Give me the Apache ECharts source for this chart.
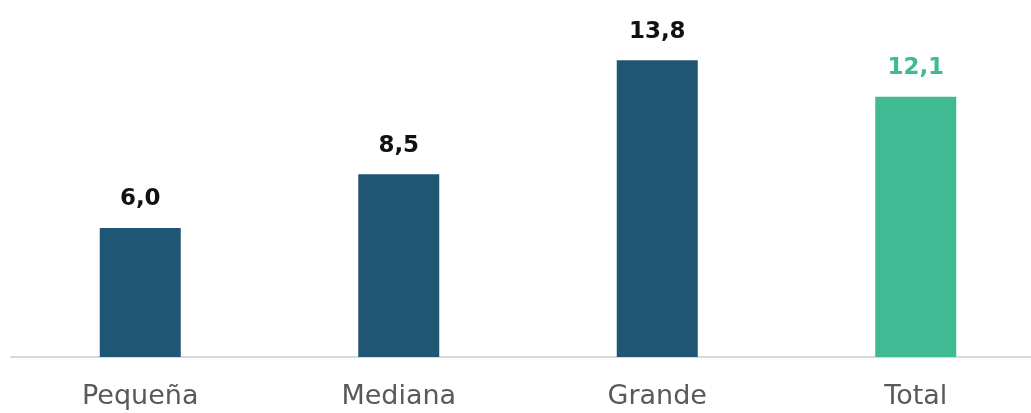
<!DOCTYPE html>
<html>
<head>
<meta charset="utf-8">
<script src="https://cdn.jsdelivr.net/npm/echarts@6/dist/echarts.min.js"></script>
<style>
html,body{margin:0;padding:0;background:#fff;overflow:hidden;}
#chart{width:1045px;height:413px;}
</style>
</head>
<body>
<div id="chart"></div>
<script>
const categories = ['Pequeña', 'Mediana', 'Grande', 'Total'];
const values = [6.0, 8.5, 13.8, 12.1];
const barColors = ['#1F5673', '#1F5673', '#1F5673', '#3FBA93'];
const labelColors = ['#111111', '#111111', '#111111', '#3FBA93'];

const chart = echarts.init(document.getElementById('chart'));
chart.setOption({
  animation: false,
  grid: { left: 11, right: 0, top: 0, bottom: 56 },
  xAxis: {
    type: 'category',
    data: categories,
    axisLine: { lineStyle: { color: '#D9D9D9', width: 2 } },
    axisTick: { show: false },
    axisLabel: { color: '#595959', fontSize: 27, fontFamily: 'DejaVu Sans', margin: 26 }
  },
  yAxis: {
    type: 'value', min: 0, max: 16.6,
    show: false
  },
  series: [{
    type: 'bar',
    barWidth: 81,
    data: values.map((v, i) => ({
      value: v,
      itemStyle: { color: barColors[i] },
      label: { color: labelColors[i] }
    })),
    label: {
      show: true,
      position: 'top',
      distance: 17,
      fontSize: 23,
      fontWeight: 'bold',
      fontFamily: 'DejaVu Sans',
      formatter: p => p.value.toFixed(1).replace('.', ',')
    }
  }]
});
</script>
</body>
</html>
